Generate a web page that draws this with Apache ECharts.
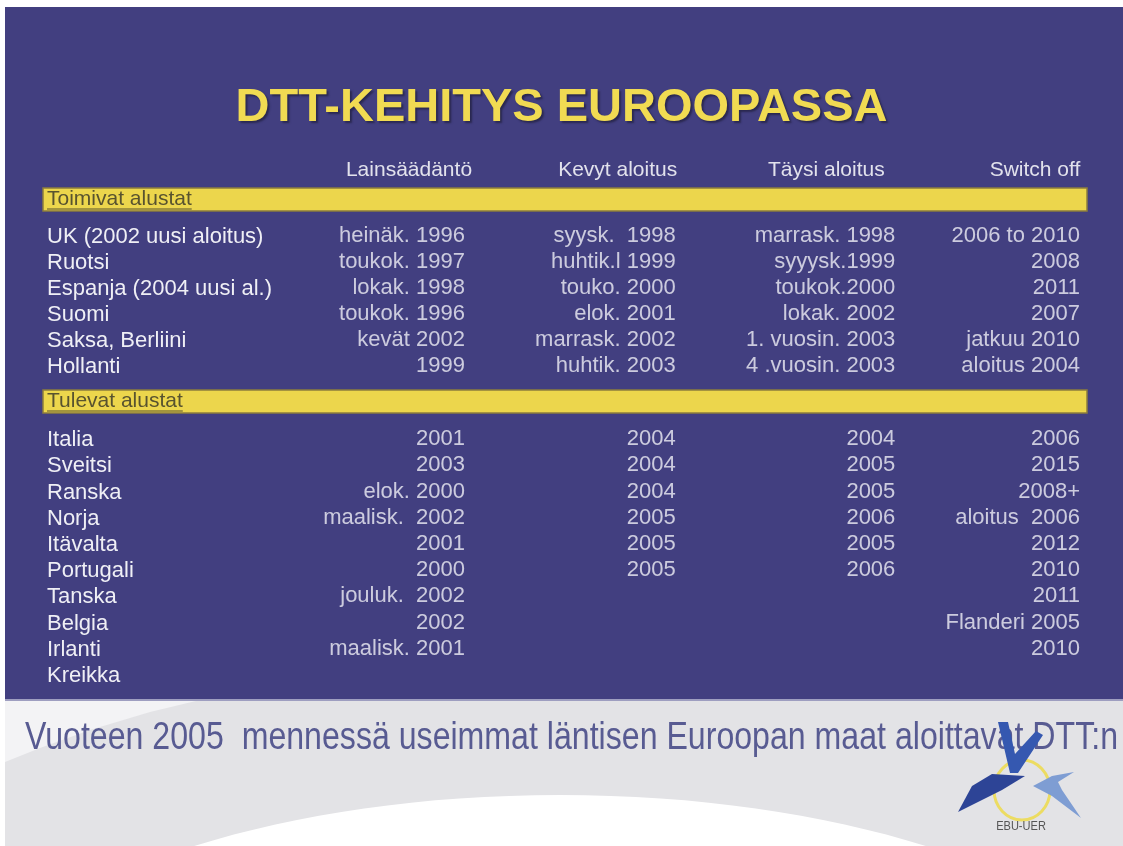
<!DOCTYPE html>
<html>
<head>
<meta charset="utf-8">
<script src="https://cdn.jsdelivr.net/npm/echarts@6/dist/echarts.min.js"></script>
<style>
  html, body { margin: 0; padding: 0; background: #fff; }
  #chart { width: 1123px; height: 846px; }
</style>
</head>
<body>
<div id="chart"></div>
<script>
const columns = ['Lainsäädäntö', 'Kevyt aloitus', 'Täysi aloitus', 'Switch off'];

const activeCountries = ['UK (2002 uusi aloitus)', 'Ruotsi', 'Espanja (2004 uusi al.)', 'Suomi', 'Saksa, Berliini', 'Hollanti'];
const activeLaw = ['heinäk. 1996', 'toukok. 1997', 'lokak. 1998', 'toukok. 1996', 'kevät 2002', '1999'];
const activeSoft = ['syysk.  1998', 'huhtik.l 1999', 'touko. 2000', 'elok. 2001', 'marrask. 2002', 'huhtik. 2003'];
const activeFull = ['marrask. 1998', 'syyysk.1999', 'toukok.2000', 'lokak. 2002', '1. vuosin. 2003', '4 .vuosin. 2003'];
const activeOff = ['2006 to 2010', '2008', '2011', '2007', 'jatkuu 2010', 'aloitus 2004'];

const upcomingCountries = ['Italia', 'Sveitsi', 'Ranska', 'Norja', 'Itävalta', 'Portugali', 'Tanska', 'Belgia', 'Irlanti', 'Kreikka'];
const upcomingLaw = ['2001', '2003', 'elok. 2000', 'maalisk.  2002', '2001', '2000', 'jouluk.  2002', '2002', 'maalisk. 2001', ''];
const upcomingSoft = ['2004', '2004', '2004', '2005', '2005', '2005', '', '', '', ''];
const upcomingFull = ['2004', '2005', '2005', '2006', '2005', '2006', '', '', '', ''];
const upcomingOff = ['2006', '2015', '2008+', 'aloitus  2006', '2012', '2010', '2011', 'Flanderi 2005', '2010', ''];

const sectionTitles = ['Toimivat alustat', 'Tulevat alustat'];
const titleText = 'DTT-KEHITYS EUROOPASSA';
const footnote = 'Vuoteen 2005  mennessä useimmat läntisen Euroopan maat aloittavat DTT:n';

const FONT = 'Arial, "Liberation Sans", sans-serif';
const BLUE = '#423f80';
const YELLOW = '#ecd64c';
const WHITE_TXT = '#efeff5';
// right edge of each value column relative to its header tick
const colShift = [56, 58, 69, 45];

const chart = echarts.init(document.getElementById('chart'));

// text widths, for the section-label underline and the narrow footnote
const measureCtx = document.createElement('canvas').getContext('2d');
function textWidth(text, font) {
  measureCtx.font = font;
  return measureCtx.measureText(text).width;
}

function columnSeries(gridIdx, cols) {
  return cols.map((vals, c) => ({
    type: 'scatter',
    xAxisIndex: gridIdx,
    yAxisIndex: gridIdx,
    symbolSize: 1,
    itemStyle: { color: 'rgba(0,0,0,0)' },
    silent: true,
    z: 5,
    data: vals.map((v, r) => ({ value: [c, r], name: v })).filter(d => d.name !== ''),
    label: {
      show: true,
      position: 'inside',
      align: 'right',
      verticalAlign: 'middle',
      offset: [colShift[c], -1],
      formatter: p => p.name,
      color: WHITE_TXT,
      fontFamily: FONT,
      fontSize: 22
    }
  }));
}

function yAxisFor(gridIdx, names) {
  return {
    type: 'category',
    gridIndex: gridIdx,
    inverse: true,
    data: names,
    axisLine: { show: false },
    axisTick: { show: false },
    splitLine: { show: false },
    axisLabel: {
      interval: 0,
      align: 'left',
      margin: 362,
      color: WHITE_TXT,
      fontFamily: FONT,
      fontSize: 22
    }
  };
}

function sectionBar(y, label) {
  const font = '21px ' + FONT;
  const w = textWidth(label, font);
  return [
    { type: 'rect', shape: { x: 43, y: y, width: 1044, height: 23 },
      style: { fill: YELLOW, stroke: '#8c7d3c', lineWidth: 1.5 }, z: 1 },
    { type: 'text', x: 47, y: y + 11,
      style: { text: label, font: font, fill: '#58532f', textVerticalAlign: 'middle' }, z: 2 },
    { type: 'line', shape: { x1: 47, y1: y + 21, x2: 47 + w, y2: y + 21 },
      style: { stroke: '#58532f', lineWidth: 1 }, z: 2 }
  ];
}

const footFont = '38px ' + FONT;
const footScale = 1093 / textWidth(footnote, footFont);

const option = {
  backgroundColor: '#ffffff',
  animation: false,
  title: {
    text: titleText,
    left: 'center',
    top: 80,
    textStyle: {
      color: '#f1db52',
      fontFamily: FONT,
      fontWeight: 'bold',
      fontSize: 47,
      textShadowColor: '#2a2850',
      textShadowOffsetX: 2,
      textShadowOffsetY: 2,
      textShadowBlur: 2
    }
  },
  grid: [
    { left: 409, right: 88, top: 224, height: 156 },
    { left: 409, right: 88, top: 427, height: 262 }
  ],
  xAxis: [
    {
      type: 'category', gridIndex: 0, position: 'top', boundaryGap: false, data: columns,
      axisLine: { show: false }, axisTick: { show: false },
      axisLabel: { margin: 43, color: '#e2e2ec', fontFamily: FONT, fontSize: 21, interval: 0 }
    },
    {
      type: 'category', gridIndex: 1, boundaryGap: false, data: columns, show: false
    }
  ],
  yAxis: [yAxisFor(0, activeCountries), yAxisFor(1, upcomingCountries)],
  series: [
    ...columnSeries(0, [activeLaw, activeSoft, activeFull, activeOff]),
    ...columnSeries(1, [upcomingLaw, upcomingSoft, upcomingFull, upcomingOff])
  ],
  graphic: [
    // slide background
    { type: 'rect', shape: { x: 5, y: 699, width: 1118, height: 147 }, style: { fill: '#e3e3e6' }, z: -10 },
    { type: 'polygon', shape: { points: [[5, 700], [200, 700], [150, 712], [90, 730], [40, 748], [5, 762]] },
      style: { fill: '#f3f3f5' }, z: -9 },
    { type: 'ellipse', shape: { cx: 560, cy: 1060, rx: 620, ry: 265 },
      style: { fill: '#ffffff' }, z: -9 },
    { type: 'rect', shape: { x: 5, y: 7, width: 1118, height: 692 }, style: { fill: BLUE }, z: -8 },
    { type: 'line', shape: { x1: 5, y1: 700, x2: 1123, y2: 700 }, style: { stroke: '#9e9ec0', lineWidth: 2 }, z: -7 },
    ...sectionBar(188, sectionTitles[0]),
    ...sectionBar(390, sectionTitles[1]),
    // footnote, narrow face
    { type: 'text', x: 25, y: 739, scaleX: footScale,
      style: { text: footnote, font: footFont, fill: '#585b92', textVerticalAlign: 'middle' }, z: 3 },
    // EBU-UER logo
    { type: 'ellipse', shape: { cx: 1022, cy: 790, rx: 28, ry: 30 },
      style: { fill: 'none', stroke: '#ecdc62', lineWidth: 3 }, z: 4 },
    { type: 'polygon', shape: { points: [[998, 722], [1008, 722], [1015, 754], [1036, 731], [1043, 735], [1018, 773], [1010, 773]] },
      style: { fill: '#3558b0' }, z: 5 },
    { type: 'polygon', shape: { points: [[958, 812], [972, 786], [992, 774], [1025, 776], [1002, 790]] },
      style: { fill: '#2d4496' }, z: 5 },
    { type: 'polygon', shape: { points: [[1074, 772], [1052, 776], [1033, 786], [1052, 796], [1081, 818], [1062, 790], [1058, 782]] },
      style: { fill: '#7e9dd3' }, z: 5 },
    { type: 'text', x: 1021, y: 826, scaleX: 0.85,
      style: { text: 'EBU-UER', font: '13px ' + FONT, fill: '#555', textAlign: 'center', textVerticalAlign: 'middle' }, z: 5 }
  ]
};

chart.setOption(option);
</script>
</body>
</html>
